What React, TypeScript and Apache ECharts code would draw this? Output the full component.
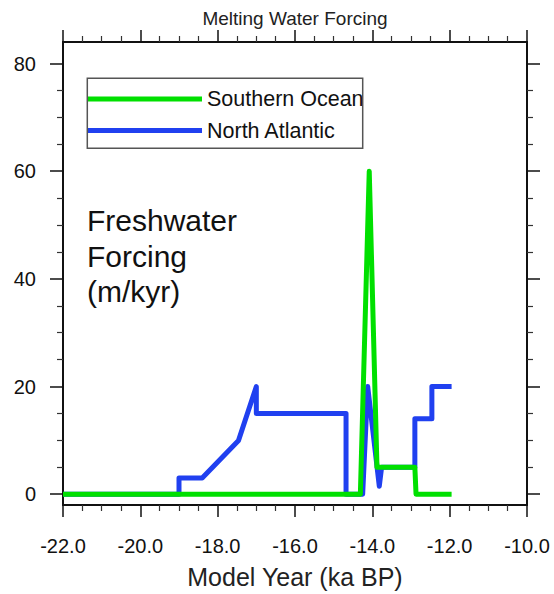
import React, { useEffect, useRef } from 'react';
import * as echarts from 'echarts';

// ---- Data ----
const southernOceanX = [-22, -14.31, -14.08, -13.88, -12.9, -12.87, -11.95];
const southernOceanY = [0, 0, 60, 5, 5, 0, 0];

const northAtlanticX = [-22, -19.0, -19.0, -18.4, -17.46, -17.0, -17.0, -14.68, -14.68, -14.25, -14.12, -13.82, -13.76, -12.9, -12.9, -12.46, -12.46, -11.95];
const northAtlanticY = [0, 0, 3, 3, 10, 20, 15, 15, 0, 0, 20, 1.5, 5, 5, 14, 14, 20, 20];

const seriesNames = ['Southern Ocean', 'North Atlantic'];
const xMin = -22;
const xMax = -10;
const xStep = 2;
const yMin = -2;
const yMax = 84;
const yMajorTicks = [0, 20, 40, 60, 80];
const yMinorTicks = [5, 10, 15, 25, 30, 35, 45, 50, 55, 65, 70, 75];

const titleText = 'Melting Water Forcing';
const xAxisTitle = 'Model Year (ka BP)';
const annotation = 'Freshwater\nForcing\n(m/kyr)';

const FONT = '"Liberation Sans", Arial, Helvetica, sans-serif';
const GREEN = '#00e000';
const BLUE = '#2040f0';
const AXIS = '#111';

export default function App() {
  const ref = useRef<HTMLDivElement>(null);
  useEffect(() => {
    document.body.style.margin = '0';
    const chart = echarts.init(ref.current as HTMLDivElement, null, { renderer: 'svg' });
    const zip = (xs: number[], ys: number[]) => xs.map((x, i) => [x, ys[i]]);

    const baseX = {
      type: 'value' as const,
      min: xMin,
      max: xMax,
      interval: xStep,
      axisLine: { show: true, onZero: false, lineStyle: { color: AXIS, width: 2 } },
      axisTick: { show: true, inside: false, length: 12, lineStyle: { color: AXIS, width: 1.5 } },
      minorTick: { show: true, splitNumber: 4, length: 6, lineStyle: { color: '#333', width: 1.2 } },
      splitLine: { show: false },
      minorSplitLine: { show: false },
    };
    const baseY = {
      type: 'value' as const,
      min: yMin,
      max: yMax,
      splitLine: { show: false },
    };

    chart.setOption({
      animation: false,
      backgroundColor: '#ffffff',
      title: {
        text: titleText,
        left: 295,
        textAlign: 'center',
        top: 9,
        padding: 0,
        textStyle: { fontFamily: FONT, fontSize: 19, fontWeight: 'normal', color: '#222' },
      },
      legend: {
        data: seriesNames,
        orient: 'vertical',
        left: 87,
        top: 88,
        padding: 0,
        itemWidth: 115,
        itemHeight: 5,
        itemGap: 9.5,
        icon: 'rect',
        selectedMode: false,
        textStyle: { fontFamily: FONT, fontSize: 21.5, color: '#111' },
      },
      grid: { left: 63, right: 27, top: 42, bottom: 86, containLabel: false },
      xAxis: [
        {
          ...baseX,
          position: 'bottom',
          name: xAxisTitle,
          nameLocation: 'middle',
          nameGap: 59,
          nameTextStyle: { fontFamily: FONT, fontSize: 25, color: '#222' },
          axisLabel: {
            show: true,
            margin: 31,
            fontFamily: FONT,
            fontSize: 20,
            color: '#111',
            showMinLabel: true,
            showMaxLabel: true,
            formatter: (v: number) => v.toFixed(1),
          },
        },
        {
          ...baseX,
          position: 'top',
          axisLabel: { show: false },
        },
      ],
      yAxis: [
        {
          ...baseY,
          position: 'left',
          axisLine: { show: true, onZero: false, lineStyle: { color: AXIS, width: 2 } },
          axisTick: { show: true, inside: false, length: 13, customValues: yMajorTicks, lineStyle: { color: AXIS, width: 1.5 } },
          axisLabel: { show: true, margin: 27, customValues: yMajorTicks, fontFamily: FONT, fontSize: 20, color: '#111' },
        },
        {
          ...baseY,
          position: 'right',
          axisLine: { show: true, onZero: false, lineStyle: { color: AXIS, width: 2 } },
          axisTick: { show: true, inside: false, length: 13, customValues: yMajorTicks, lineStyle: { color: AXIS, width: 1.5 } },
          axisLabel: { show: false },
        },
        {
          ...baseY,
          position: 'left',
          axisLine: { show: false, onZero: false },
          axisTick: { show: true, inside: false, length: 6, customValues: yMinorTicks, lineStyle: { color: '#333', width: 1.2 } },
          axisLabel: { show: false, customValues: yMinorTicks },
        },
        {
          ...baseY,
          position: 'right',
          axisLine: { show: false, onZero: false },
          axisTick: { show: true, inside: false, length: 6, customValues: yMinorTicks, lineStyle: { color: '#333', width: 1.2 } },
          axisLabel: { show: false, customValues: yMinorTicks },
        },
      ],
      graphic: [
        {
          type: 'rect',
          shape: { x: 87.3, y: 78.3, width: 275.4, height: 70 },
          style: { fill: 'none', stroke: '#555', lineWidth: 1.5 },
          z: 10,
        },
        {
          type: 'text',
          x: 87,
          y: 203,
          style: {
            text: annotation,
            fontFamily: FONT,
            fontSize: 30,
            lineHeight: 35.5,
            fill: '#111',
            verticalAlign: 'top',
            align: 'left',
          },
          z: 10,
        },
      ],
      series: [
        {
          name: seriesNames[1],
          type: 'line',
          xAxisIndex: 0,
          yAxisIndex: 0,
          data: zip(northAtlanticX, northAtlanticY),
          symbol: 'none',
          showSymbol: false,
          itemStyle: { color: BLUE },
          lineStyle: { color: BLUE, width: 5, join: 'round' },
          z: 2,
        },
        {
          name: seriesNames[0],
          type: 'line',
          xAxisIndex: 0,
          yAxisIndex: 0,
          data: zip(southernOceanX, southernOceanY),
          symbol: 'none',
          showSymbol: false,
          itemStyle: { color: GREEN },
          lineStyle: { color: GREEN, width: 5, join: 'round' },
          z: 3,
        },
      ],
    });
    return () => chart.dispose();
  }, []);
  return <div ref={ref} style={{ position: 'absolute', left: 0, top: 0, width: 554, height: 594 }} />;
}
